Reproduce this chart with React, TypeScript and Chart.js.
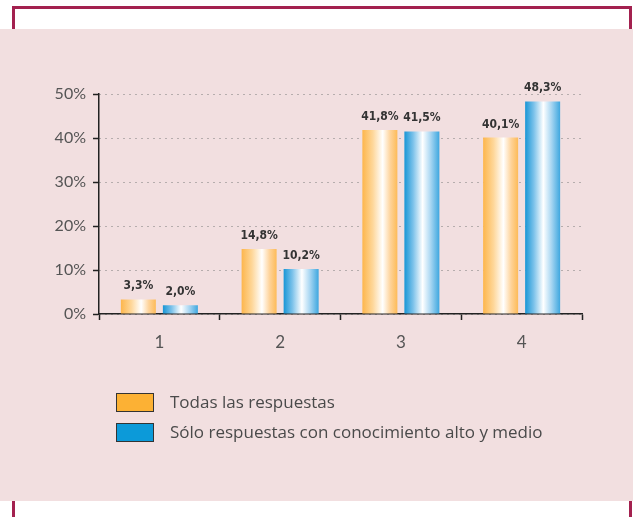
import React, { useEffect, useRef } from 'react';
import { Chart, registerables } from 'chart.js';

Chart.register(...registerables);

const categories = ['1', '2', '3', '4'];
const todasValues = [3.3, 14.8, 41.8, 40.1];
const soloValues = [2.0, 10.2, 41.5, 48.3];
const seriesNames = ['Todas las respuestas', 'Sólo respuestas con conocimiento alto y medio'];
const yMin = 0;
const yMax = 50;
const yStep = 10;

const legendColors = ['#fcb134', '#0c9ad9'];
const gradientStops: [number, string][][] = [
  [[0, '#fdb64c'], [0.3, '#fed79a'], [0.58, '#ffffff'], [0.8, '#fed39a'], [1, '#fdbb58']],
  [[0, '#1896d6'], [0.25, '#7cc2ea'], [0.52, '#ffffff'], [0.75, '#a8d6f2'], [1, '#3ea7df']],
];

const gradientPlugin = {
  id: 'barGradient',
  beforeDatasetsDraw(chart: any) {
    const ctx = chart.ctx;
    chart.data.datasets.forEach((_ds: any, i: number) => {
      const meta = chart.getDatasetMeta(i);
      meta.data.forEach((el: any) => {
        const p = el.getProps(['x', 'width'], true);
        const left = p.x - p.width / 2;
        const g = ctx.createLinearGradient(left, 0, left + p.width, 0);
        gradientStops[i].forEach(([o, c]) => g.addColorStop(o, c));
        el.options = Object.assign({}, el.options, { backgroundColor: g });
      });
    });
  },
};

const labelPlugin = {
  id: 'valueLabels',
  afterDatasetsDraw(chart: any) {
    const ctx = chart.ctx;
    ctx.save();
    ctx.font = 'bold 12px "DejaVu Sans Condensed", "DejaVu Sans", sans-serif';
    ctx.fillStyle = '#333333';
    ctx.textAlign = 'center';
    ctx.textBaseline = 'alphabetic';
    chart.data.datasets.forEach((ds: any, i: number) => {
      const meta = chart.getDatasetMeta(i);
      meta.data.forEach((el: any, j: number) => {
        const v = ds.data[j] as number;
        const txt = v.toFixed(1).replace('.', ',') + '%';
        ctx.fillText(txt, el.x, el.y - 10);
      });
    });
    ctx.restore();
  },
};

const legendPlugin = {
  id: 'customLegend',
  afterDraw(chart: any) {
    const ctx = chart.ctx;
    ctx.save();
    const boxX = 116.5;
    const boxW = 37;
    const boxH = 18;
    const rows = [393.5, 423.5];
    ctx.font = '17px "Open Sans", Lato, sans-serif';
    ctx.textBaseline = 'middle';
    ctx.textAlign = 'left';
    seriesNames.forEach((name, i) => {
      ctx.fillStyle = legendColors[i];
      ctx.fillRect(boxX, rows[i], boxW, boxH);
      ctx.strokeStyle = '#333333';
      ctx.lineWidth = 1;
      ctx.strokeRect(boxX, rows[i], boxW, boxH);
      ctx.fillStyle = '#4a4a4a';
      ctx.fillText(name, 170, rows[i] + boxH / 2 + 0.5);
    });
    ctx.restore();
  },
};

export default function App() {
  const canvasRef = useRef<HTMLCanvasElement | null>(null);

  useEffect(() => {
    document.body.style.margin = '0';
    const canvas = canvasRef.current;
    if (!canvas) return;
    const chart = new Chart(canvas, {
      type: 'bar',
      data: {
        labels: categories,
        datasets: [
          {
            label: seriesNames[0],
            data: todasValues,
            backgroundColor: () => legendColors[0],
            borderWidth: 0,
            categoryPercentage: 0.696,
            barPercentage: 0.833,
          },
          {
            label: seriesNames[1],
            data: soloValues,
            backgroundColor: () => legendColors[1],
            borderWidth: 0,
            categoryPercentage: 0.696,
            barPercentage: 0.833,
          },
        ],
      },
      options: {
        animation: false,
        responsive: false,
        maintainAspectRatio: false,
        devicePixelRatio: 1,
        layout: { padding: { left: 0, top: 94, right: 51, bottom: 163 } },
        plugins: {
          legend: { display: false },
          tooltip: { enabled: false },
          title: { display: false },
        },
        scales: {
          x: {
            offset: true,
            afterFit: (scale: any) => {
              scale.height = 40;
            },
            grid: {
              display: true,
              offset: true,
              drawOnChartArea: false,
              drawTicks: true,
              tickLength: 6,
              tickColor: '#222222',
              tickWidth: 1.5,
            },
            border: { display: true, color: '#222222', width: 1.5 },
            ticks: {
              color: '#555555',
              padding: 12,
              font: { family: 'Lato, "Open Sans", sans-serif', size: 17 },
            },
          },
          y: {
            min: yMin,
            max: yMax,
            afterFit: (scale: any) => {
              scale.width = 99;
            },
            grid: {
              color: '#7a7a7a',
              lineWidth: 1,
              drawTicks: true,
              tickLength: 6,
              tickColor: '#222222',
              tickWidth: 1.5,
              tickBorderDash: [],
            },
            border: { display: true, color: '#222222', width: 1.5, dash: [1, 5] },
            ticks: {
              stepSize: yStep,
              color: '#555555',
              padding: 7,
              font: { family: 'Lato, "Open Sans", sans-serif', size: 16 },
              callback: (v: any) => v + '%',
            },
          },
        },
      },
      plugins: [gradientPlugin, labelPlugin, legendPlugin],
    });
    return () => chart.destroy();
  }, []);

  return (
    <div style={{ position: 'relative', width: 633, height: 517, background: '#ffffff', overflow: 'hidden' }}>
      <div
        style={{
          position: 'absolute',
          left: 12,
          top: 6,
          width: 620,
          height: 600,
          border: '3px solid #a3214f',
          boxSizing: 'border-box',
        }}
      />
      <div style={{ position: 'absolute', left: 0, top: 29, width: 633, height: 472, background: '#f2dfe0' }} />
      <canvas
        ref={canvasRef}
        width={633}
        height={517}
        style={{ position: 'absolute', left: 0, top: 0, width: 633, height: 517 }}
      />
    </div>
  );
}
